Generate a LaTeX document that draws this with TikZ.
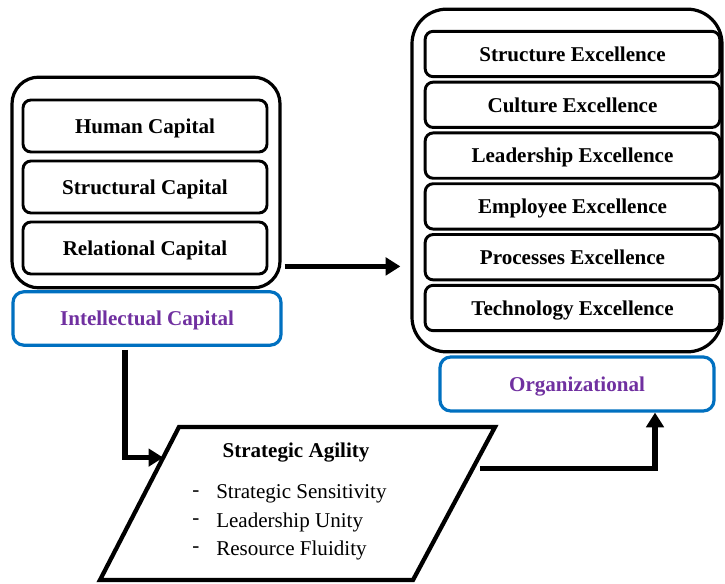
\documentclass[tikz,border=0pt]{standalone}
\usepackage{fontspec}
\setmainfont{Liberation Serif}
\usetikzlibrary{arrows.meta}
\usetikzlibrary{calc}

\definecolor{boxblue}{RGB}{0,112,192}
\definecolor{labelpurple}{RGB}{112,48,160}

\tikzset{
  groupbox/.style={draw,line width=2.4pt,rounded corners=20pt,inner sep=0pt},
  itembox/.style={draw,line width=2.2pt,rounded corners=6pt,inner sep=0pt,text depth=0pt,
    font=\bfseries\fontsize{15.8}{18}\selectfont},
  captionbox/.style={draw=boxblue,line width=2.4pt,rounded corners=8pt,inner sep=0pt,text depth=0pt,
    text=labelpurple,font=\bfseries\fontsize{15.8}{18}\selectfont},
  flowarrow/.style={line width=4.2pt,-{Triangle[length=11pt,width=13pt]}},
}

\begin{document}
\begin{tikzpicture}[x=0.75pt,y=-0.75pt]
    \useasboundingbox (0,0) rectangle (725,584);

    % intellectual capital block
    \node[groupbox,minimum width=201pt,minimum height=158pt] (icgroup) at (146,182.5) {};
    \node[itembox,minimum width=183pt,minimum height=39pt] (human) at (145,126) {Human Capital};
    \node[itembox,minimum width=183pt,minimum height=39pt] (structural) at (145,187) {Structural Capital};
    \node[itembox,minimum width=183pt,minimum height=39pt] (relational) at (145,248) {Relational Capital};
    \node[captionbox,minimum width=201pt,minimum height=40pt] (ic) at (147,318.5) {Intellectual Capital};

    % organizational excellence block
    \node[groupbox,rounded corners=26pt,minimum width=232.5pt,minimum height=257pt] (oegroup) at (567,180.5) {};
    \foreach \name [count=\i from 0] in {Structure,Culture,Leadership,Employee,Processes,Technology}
      \node[itembox,minimum width=221pt,minimum height=34pt] (oe-\i) at (572.5,54+50.8*\i) {\name{} Excellence};
    \node[captionbox,minimum width=205.5pt,minimum height=40.5pt] (org) at (577,384) {Organizational};

    % strategic agility parallelogram
    \coordinate (pa-tl) at (179,427);
    \coordinate (pa-tr) at (495,427);
    \coordinate (pa-br) at (413,580);
    \coordinate (pa-bl) at (100,580);
    \draw[line width=3.2pt,line join=miter] (pa-tl) -- (pa-tr) -- (pa-br) -- (pa-bl) -- cycle;
    \node[font=\bfseries\fontsize{15.8}{18}\selectfont] (sa) at (296,453) {Strategic Agility};
    \foreach \txt [count=\i from 0] in {Strategic Sensitivity,Leadership Unity,Resource Fluidity}{
      \node[anchor=west,inner sep=0pt,font=\fontsize{15.8}{18}\selectfont] (sa-dash-\i) at (192,494+28*\i) {-};
      \node[anchor=west,inner sep=0pt,font=\fontsize{15.8}{18}\selectfont] (sa-\i) at (216,494+28*\i) {\txt};
    }
    \coordinate (sain) at ($(pa-tl)!0.2!(pa-bl)$);
    \coordinate (saout) at ($(pa-tr)!0.27!(pa-br)$);

    % arrows
    \draw[flowarrow] ($(icgroup.south east)+(3,-23)$) -- ([xshift=-7.5pt]oegroup.west |- {$(icgroup.south east)+(3,-23)$});
    \draw[flowarrow] ($(ic.south)+(-22,3)$) |- (sain);
    \draw[flowarrow] ($(saout)+(7,0)$) -| ([xshift=58.5pt]org.south);
\end{tikzpicture}
\end{document}
